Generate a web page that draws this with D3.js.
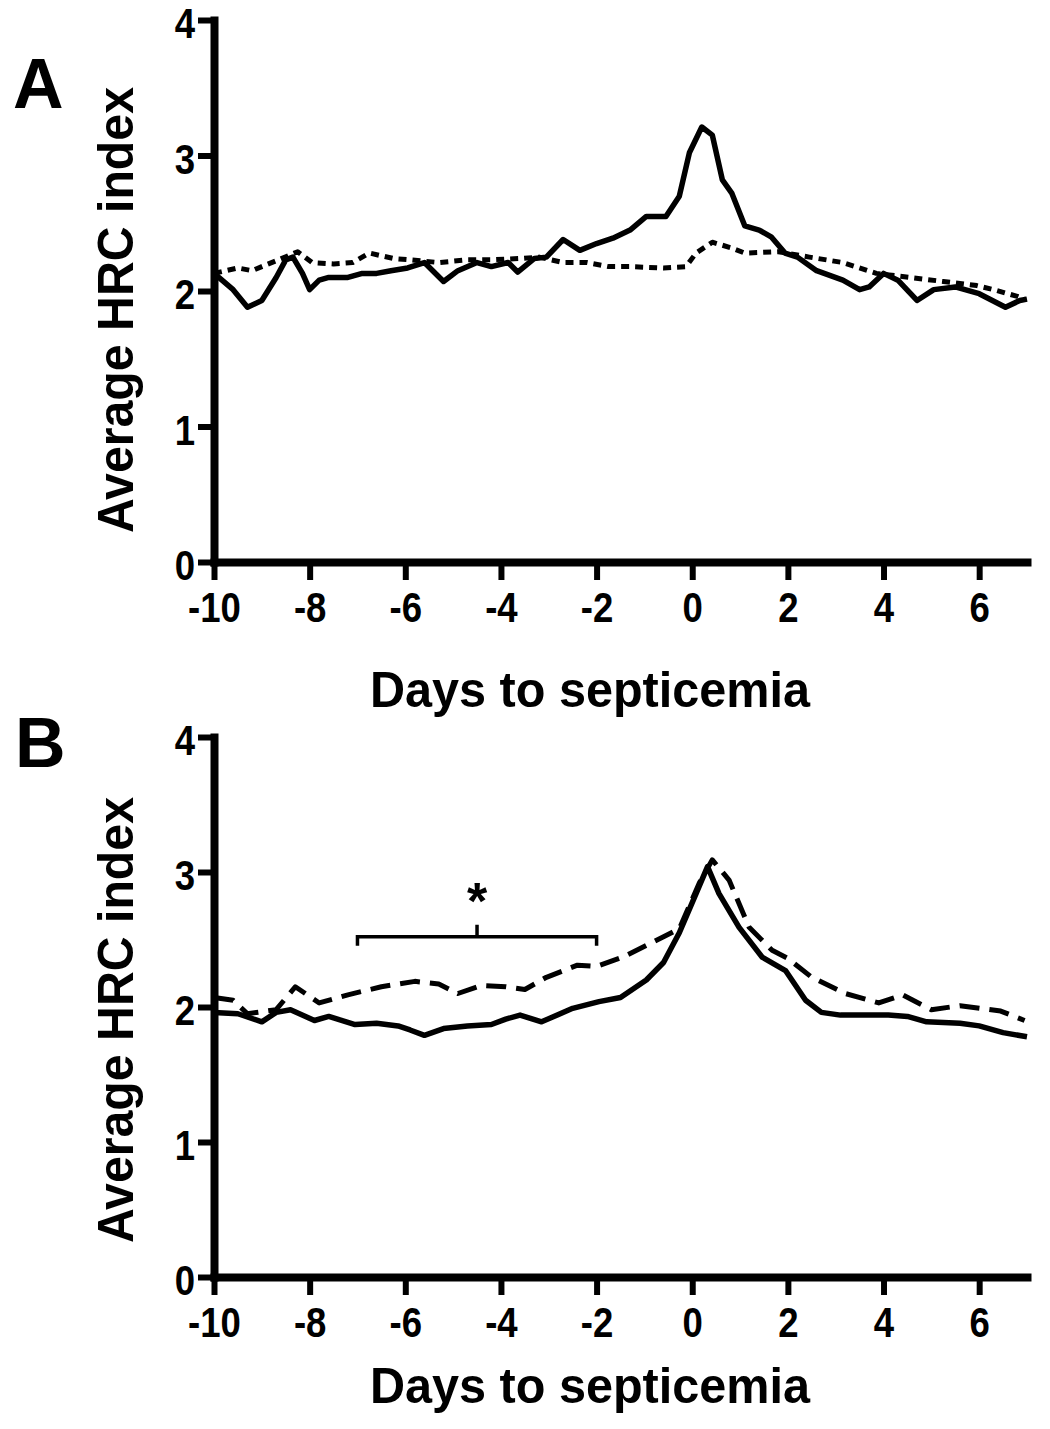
<!DOCTYPE html>
<html>
<head>
<meta charset="utf-8">
<script src="https://cdn.jsdelivr.net/npm/d3@7"></script>
<style>
  html, body { margin: 0; padding: 0; background: #fff; }
  svg text { font-family: "Liberation Sans", Arial, sans-serif; font-weight: bold; fill: #000; }
</style>
</head>
<body>
<svg id="chart" width="1050" height="1429"></svg>
<script>
// ---------- Data ----------
const xTicks = [-10, -8, -6, -4, -2, 0, 2, 4, 6];
const yTicks = [0, 1, 2, 3, 4];
const xTitle = "Days to septicemia";
const yTitle = "Average HRC index";
const panelLabels = ["A", "B"];

// Panel A, solid series
const aSolidDays = [-10, -9.9, -9.6, -9.3, -9.0, -8.7, -8.5, -8.35, -8.15, -8.0, -7.8, -7.6, -7.2, -6.9, -6.6, -6.3, -5.95, -5.6, -5.2, -4.9, -4.5, -4.2, -3.85, -3.65, -3.3, -3.05, -2.7, -2.35, -2.0, -1.66, -1.3, -0.96, -0.55, -0.27, -0.06, 0.2, 0.42, 0.63, 0.83, 1.1, 1.4, 1.65, 1.94, 2.2, 2.6, 3.15, 3.5, 3.7, 4.0, 4.3, 4.7, 5.05, 5.5, 6.0, 6.55, 6.85, 7.0];
const aSolidVals = [2.14, 2.10, 2.01, 1.88, 1.93, 2.10, 2.23, 2.25, 2.13, 2.01, 2.08, 2.10, 2.10, 2.13, 2.13, 2.15, 2.17, 2.21, 2.07, 2.15, 2.21, 2.18, 2.21, 2.14, 2.24, 2.25, 2.38, 2.30, 2.35, 2.39, 2.45, 2.55, 2.55, 2.70, 3.02, 3.21, 3.15, 2.82, 2.72, 2.48, 2.45, 2.40, 2.28, 2.25, 2.15, 2.08, 2.01, 2.03, 2.13, 2.08, 1.93, 2.01, 2.03, 1.98, 1.88, 1.93, 1.94];

// Panel A, dashed series
const aDashDays = [-10, -9.5, -9.2, -9.0, -8.65, -8.25, -7.95, -7.5, -7.1, -6.75, -6.25, -5.9, -5.3, -4.7, -4.2, -3.6, -3.2, -2.7, -2.2, -1.75, -1.3, -0.6, -0.13, 0.08, 0.42, 0.8, 1.1, 1.8, 2.45, 3.15, 3.85, 4.55, 5.25, 5.95, 6.3, 6.8, 6.95];
const aDashVals = [2.13, 2.17, 2.15, 2.18, 2.23, 2.29, 2.21, 2.20, 2.21, 2.28, 2.24, 2.23, 2.21, 2.23, 2.23, 2.24, 2.25, 2.21, 2.21, 2.18, 2.18, 2.17, 2.18, 2.28, 2.36, 2.32, 2.28, 2.29, 2.25, 2.21, 2.13, 2.10, 2.07, 2.04, 2.01, 1.96, 1.94];

// Panel B, solid series
const bSolidDays = [-10, -9.5, -9.0, -8.7, -8.4, -7.9, -7.6, -7.05, -6.6, -6.15, -5.9, -5.6, -5.2, -4.7, -4.2, -3.9, -3.6, -3.15, -2.5, -1.95, -1.5, -0.96, -0.6, -0.27, 0.08, 0.32, 0.56, 0.98, 1.46, 1.75, 1.95, 2.37, 2.7, 3.1, 3.6, 4.1, 4.5, 4.9, 5.6, 6.0, 6.5, 7.0];
const bSolidVals = [1.96, 1.95, 1.89, 1.96, 1.98, 1.90, 1.93, 1.87, 1.88, 1.86, 1.83, 1.79, 1.84, 1.86, 1.87, 1.91, 1.94, 1.89, 1.99, 2.04, 2.07, 2.20, 2.33, 2.55, 2.84, 3.04, 2.84, 2.59, 2.37, 2.31, 2.27, 2.05, 1.96, 1.94, 1.94, 1.94, 1.93, 1.89, 1.88, 1.86, 1.81, 1.78];

// Panel B, dashed series
const bDashDays = [-10, -9.6, -9.3, -8.7, -8.3, -7.8, -7.2, -6.5, -5.8, -5.3, -4.9, -4.4, -3.9, -3.5, -3.05, -2.4, -2.0, -1.45, -0.6, -0.27, 0.15, 0.42, 0.77, 1.19, 1.67, 2.0, 2.5, 3.2, 3.9, 4.4, 5.0, 5.6, 6.45, 6.95];
const bDashVals = [2.07, 2.05, 1.95, 1.98, 2.15, 2.03, 2.09, 2.15, 2.19, 2.17, 2.10, 2.16, 2.15, 2.13, 2.22, 2.31, 2.30, 2.37, 2.52, 2.58, 2.92, 3.09, 2.94, 2.59, 2.42, 2.36, 2.22, 2.10, 2.03, 2.09, 1.98, 2.01, 1.97, 1.90];

// Significance bracket in panel B
const bracketDays = [-7, -2];
const bracketLevel = 2.52;
const bracketLabel = "*";

// ---------- Drawing ----------
const svg = d3.select("#chart");
const x = d3.scaleLinear().domain([-10, 7]).range([214, 1027]);

function condense(sel, factor) {
  sel.each(function () {
    const len = this.getComputedTextLength();
    d3.select(this).attr("textLength", len * factor).attr("lengthAdjust", "spacingAndGlyphs");
  });
}

function drawPanel(cfg) {
  const y = d3.scaleLinear().domain([0, 4]).range([cfg.y0, cfg.y4]);
  const g = svg.append("g");

  const line = d3.line().x(d => x(d[0])).y(d => y(d[1])).curve(d3.curveLinear);

  // series
  g.append("path")
    .datum(cfg.dashDays.map((d, i) => [d, cfg.dashVals[i]]))
    .attr("d", line).attr("fill", "none").attr("stroke", "#000")
    .attr("stroke-width", 5).attr("stroke-dasharray", cfg.dash)
    .attr("stroke-linejoin", "round");
  g.append("path")
    .datum(cfg.solidDays.map((d, i) => [d, cfg.solidVals[i]]))
    .attr("d", line).attr("fill", "none").attr("stroke", "#000")
    .attr("stroke-width", 5.5).attr("stroke-linejoin", "round");

  // y axis
  const ya = g.append("g").attr("transform", `translate(${x(-10)},0)`)
    .call(d3.axisLeft(y).tickValues(yTicks).tickFormat(d3.format("d")).tickSize(16).tickSizeOuter(0).tickPadding(3));
  ya.select(".domain").attr("stroke-width", 8).attr("stroke-linecap", "square");
  ya.selectAll(".tick line").attr("stroke-width", 6);
  ya.selectAll(".tick text").attr("font-size", 42).attr("font-weight", "bold").attr("dy", "0.42em")
    .attr("font-family", '"Liberation Sans", Arial, sans-serif').call(condense, 0.87);

  // x axis
  const xa = g.append("g").attr("transform", `translate(0,${cfg.y0})`)
    .call(d3.axisBottom(x).tickValues(xTicks).tickFormat(d3.format("d")).tickSize(18).tickSizeOuter(0).tickPadding(12));
  xa.select(".domain").attr("stroke-width", 8).attr("stroke-linecap", "square");
  xa.selectAll(".tick line").attr("stroke-width", 6);
  xa.selectAll(".tick text").attr("font-size", 42).attr("font-weight", "bold")
    .attr("font-family", '"Liberation Sans", Arial, sans-serif')
    .text(d => String(d)).call(condense, 0.87);

  // titles
  g.append("text").attr("x", 590).attr("y", cfg.xTitleY).attr("text-anchor", "middle")
    .attr("font-size", 50).attr("textLength", 440).attr("lengthAdjust", "spacingAndGlyphs")
    .text(xTitle);
  g.append("text").attr("transform", `translate(133,${cfg.yTitleC}) rotate(-90)`)
    .attr("text-anchor", "middle").attr("font-size", 50)
    .attr("textLength", 446).attr("lengthAdjust", "spacingAndGlyphs").text(yTitle);

  g.append("text").attr("x", cfg.labX).attr("y", cfg.labY).attr("font-size", 70).text(cfg.label);

  return { g, y };
}

drawPanel({
  y0: 562, y4: 20, solidDays: aSolidDays, solidVals: aSolidVals,
  dashDays: aDashDays, dashVals: aDashVals, dash: "8,6",
  xTitleY: 707, yTitleC: 310, label: panelLabels[0], labX: 13, labY: 108
});

const pB = drawPanel({
  y0: 1277, y4: 737, solidDays: bSolidDays, solidVals: bSolidVals,
  dashDays: bDashDays, dashVals: bDashVals, dash: "20,10",
  xTitleY: 1403, yTitleC: 1020, label: panelLabels[1], labX: 15, labY: 767
});

// bracket
const bx0 = x(bracketDays[0]), bx1 = x(bracketDays[1]);
const bm = (bx0 + bx1) / 2;
const by = pB.y(bracketLevel);
pB.g.append("path")
  .attr("d", `M${bx0},${by + 9}V${by}H${bx1}V${by + 9}M${bm},${by}V${by - 12}`)
  .attr("fill", "none").attr("stroke", "#000").attr("stroke-width", 3.5);
pB.g.append("text").attr("x", bm).attr("y", by + 26 - 44).attr("text-anchor", "middle")
  .attr("font-size", 52).text(bracketLabel);
</script>
</body>
</html>
